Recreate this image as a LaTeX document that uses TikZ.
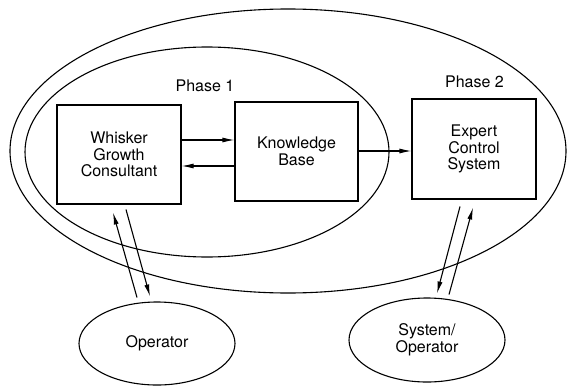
\documentclass[tikz,border=0pt]{standalone}
\usepackage{fontspec}
\setmainfont{TeX Gyre Heros}
\usetikzlibrary{shapes.geometric,arrows.meta}
\tikzset{
  every node/.style={font=\fontsize{16}{16.5}\selectfont, align=center},
  boxnode/.style={draw, line width=1.1pt, minimum width=124pt, minimum height=99pt, inner sep=0pt},
  ringnode/.style={draw, ellipse, line width=1.1pt, inner sep=0pt},
  conn/.style={line width=1.1pt, -{Latex[length=12pt,width=5pt]}},
}
\begin{document}
\begin{tikzpicture}[x=1pt,y=-1pt]
\useasboundingbox (0,0) rectangle (567,388);
% enclosing ellipses
\node[ringnode, minimum width=556pt, minimum height=284pt] (ph2) at (288,151) {};
\node[ringnode, minimum width=364pt, minimum height=210pt] (ph1) at (207,152) {};
% labels
\node (lab1) at (205,86) {Phase 1};
\node (lab2) at (474.5,82) {Phase 2};
% boxes
\node[boxnode] (wgc) at (119,154.5) {Whisker\\Growth\\Consultant};
\node[boxnode, minimum width=123pt] (kb) at (296.5,151.5) {Knowledge\\Base};
\node[boxnode, minimum height=100pt] (ecs) at (474,149) {Expert\\Control\\System};
% bottom ellipses
\node[ringnode, minimum width=156pt, minimum height=83pt] (op) at (157,343.5) {Operator};
\node[ringnode, minimum width=156pt, minimum height=84pt] (sop) at (427,340) {System/\\Operator};
% connectors between boxes
\draw[conn] (wgc.east |- 0,140) -- (kb.west |- 0,140);
\draw[conn] (kb.west |- 0,166) -- (wgc.east |- 0,166);
\draw[conn] (kb.east |- 0,151) -- (ecs.west |- 0,151);
% operator links
\draw[conn] ([xshift=-20pt,yshift=4pt]op.north) -- ([xshift=-6pt,yshift=-8pt]wgc.south);
\draw[conn] ([xshift=7pt,yshift=-5pt]wgc.south) -- ([xshift=-7pt,yshift=5pt]op.north);
% system/operator links
\draw[conn] ([xshift=-14pt,yshift=-7pt]ecs.south) -- ([xshift=10pt,yshift=4pt]sop.north);
\draw[conn] ([xshift=22pt,yshift=3pt]sop.north) -- ([xshift=-1pt,yshift=-8pt]ecs.south);
\end{tikzpicture}
\end{document}
